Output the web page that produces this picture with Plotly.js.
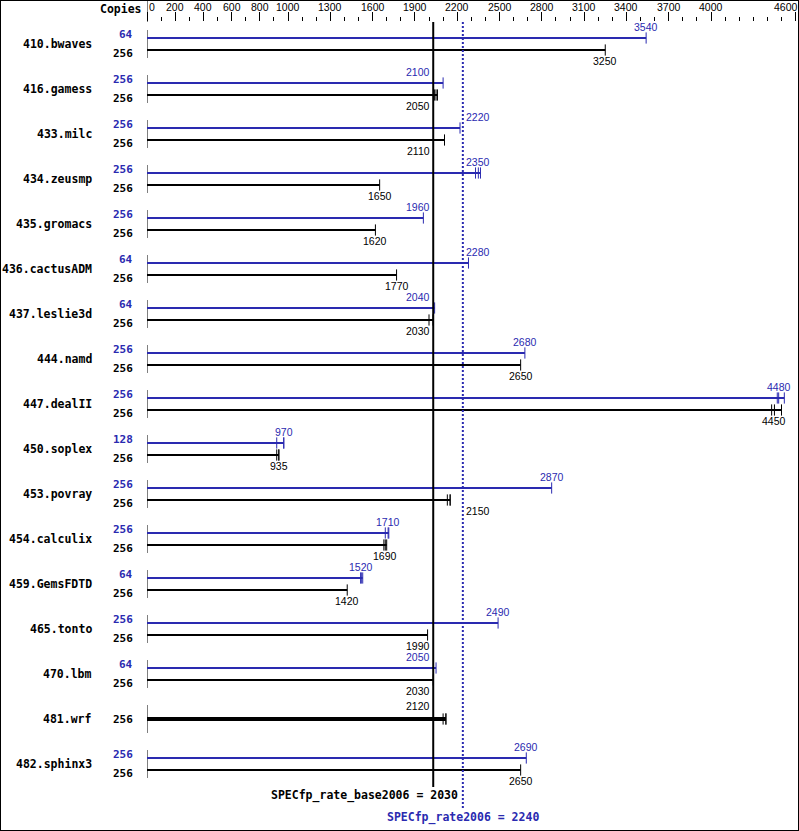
<!DOCTYPE html>
<html>
<head>
<meta charset="utf-8">
<script src="https://cdn.plot.ly/plotly-3.0.1.min.js"></script>
<style>
  html, body { margin: 0; padding: 0; background: #fff; }
  #chart { width: 797px; height: 829px; border: 1px solid #000; }
</style>
</head>
<body>
<div id="chart"></div>
<script>
// ---------------- data ----------------
const benchmarks = ['410.bwaves','416.gamess','433.milc','434.zeusmp','435.gromacs','436.cactusADM',
  '437.leslie3d','444.namd','447.dealII','450.soplex','453.povray','454.calculix','459.GemsFDTD',
  '465.tonto','470.lbm','481.wrf','482.sphinx3'];
const peakCopies = [64,256,256,256,256,64,64,256,256,128,256,256,64,256,64,null,256];
const baseCopies = [256,256,256,256,256,256,256,256,256,256,256,256,256,256,256,256,256];
const peakRatio = [3540,2100,2220,2350,1960,2280,2040,2680,4480,970,2870,1710,1520,2490,2050,null,2690];
const baseRatio = [3250,2050,2110,1650,1620,1770,2030,2650,4450,935,2150,1690,1420,1990,2030,2120,2650];
const peakRuns = [[3540],[2100],[2220],[2330,2350,2365],[1960],[2280],[2040],[2680],[4470,4480,4520],
  [920,970,970],[2870],[1690,1710,1715],[1515,1520,1530],[2490],[2050],null,[2690]];
const baseRuns = [[3250],[2040,2050,2060],[2110],[1650],[1620],[1770],[2000,2030,2030],[2650],[4430,4450,4500],
  [920,935,935],[2130,2150,2150],[1680,1690,1700],[1420],[1990],[2030],[2100,2120,2120],[2650]];
const baseScore = 2030;
const peakScore = 2240;
const tickVals = [0,200,400,600,800,1000,1300,1600,1900,2200,2500,2800,3100,3400,3700,4000,4600];

// ---------------- styling / layout helpers ----------------
const BLUE = '#2a2ab0';
const BLACK = '#000000';
const numFont = (c) => ({family: 'Liberation Sans, Arial, sans-serif', size: 10.5, color: c});
const boldFont = (c, s) => ({family: 'DejaVu Sans Mono, monospace', size: s || 11.5, color: c, weight: 'bold'});
const rowTop = 38, rowStep = 45, pairGap = 12;   // pixel layout of rows (y axis is in pixels)
const plotTop = 22, plotBottom = 830, plotH = plotBottom - plotTop;
const paperY = (py) => 1 + (plotTop - py) / plotH;
const halfLabel = 95; // approx half label width in data units

const traces = [];
const annotations = [];
const shapes = [];

function ann(o) {
  annotations.push(Object.assign({showarrow: false, yanchor: 'middle', borderpad: 0}, o));
}

function labelPos(v) {
  if (Math.abs(v - baseScore) < halfLabel) return {xanchor: 'right', x: baseScore, xshift: -2};
  if (Math.abs(v - peakScore) < halfLabel) return {xanchor: 'left', x: peakScore, xshift: 2};
  return {xanchor: 'center', x: v, xshift: 0};
}

const bars = {blue: {x: [], y: []}, black: {x: [], y: []}, thick: {x: [], y: []}};
const ticks = {blue: {x: [], y: []}, black: {x: [], y: []}};

benchmarks.forEach((name, i) => {
  const yb = rowTop + i * rowStep;
  const yk = yb + pairGap;
  const ymid = (yb + yk) / 2;
  // row axis line
  traces.push({x: [0, 0], y: [yb - 8, yk + 8], mode: 'lines', line: {color: BLACK, width: 1},
    hoverinfo: 'skip', showlegend: false});
  ann({x: 0, y: ymid - 0.5, xref: 'x', yref: 'y', text: name,
    xanchor: 'right', xshift: -54, font: boldFont(BLACK, 11.5)});
  if (peakRatio[i] == null) {
    const runs = baseRuns[i];
    const end = Math.max(...runs);
    bars.thick.x.push(0, end, null); bars.thick.y.push(ymid, ymid, null);
    runs.forEach(r => { ticks.black.x.push(r); ticks.black.y.push(ymid); });
    ann({y: ymid - 13, xref: 'x', yref: 'y', text: String(baseRatio[i]),
      font: numFont(BLACK), ...labelPos(baseRatio[i])});
    ann({x: 0, y: ymid, xref: 'x', yref: 'y', text: String(baseCopies[i]),
      xanchor: 'right', xshift: -13, font: boldFont(BLACK, 11)});
    return;
  }
  // peak
  const pend = Math.max(...peakRuns[i]);
  bars.blue.x.push(0, pend, null); bars.blue.y.push(yb, yb, null);
  peakRuns[i].forEach(r => { ticks.blue.x.push(r); ticks.blue.y.push(yb); });
  ann({y: yb - 11, xref: 'x', yref: 'y', text: String(peakRatio[i]),
    font: numFont(BLUE), ...labelPos(peakRatio[i])});
  ann({x: 0, y: yb - 3.5, xref: 'x', yref: 'y', text: String(peakCopies[i]),
    xanchor: 'right', xshift: -13, font: boldFont(BLUE, 11)});
  // base
  const bend = Math.max(...baseRuns[i]);
  bars.black.x.push(0, bend, null); bars.black.y.push(yk, yk, null);
  baseRuns[i].forEach(r => { ticks.black.x.push(r); ticks.black.y.push(yk); });
  ann({y: yk + 11, xref: 'x', yref: 'y', text: String(baseRatio[i]),
    font: numFont(BLACK), ...labelPos(baseRatio[i])});
  ann({x: 0, y: yk + 3, xref: 'x', yref: 'y', text: String(baseCopies[i]),
    xanchor: 'right', xshift: -13, font: boldFont(BLACK, 11)});
});

traces.push({x: bars.blue.x, y: bars.blue.y, mode: 'lines', line: {color: BLUE, width: 2}, hoverinfo: 'skip', showlegend: false});
traces.push({x: bars.black.x, y: bars.black.y, mode: 'lines', line: {color: BLACK, width: 2}, hoverinfo: 'skip', showlegend: false});
traces.push({x: bars.thick.x, y: bars.thick.y, mode: 'lines', line: {color: BLACK, width: 4}, hoverinfo: 'skip', showlegend: false});
traces.push({x: ticks.blue.x, y: ticks.blue.y, mode: 'markers', hoverinfo: 'skip', showlegend: false,
  marker: {symbol: 'line-ns-open', size: 8, color: BLUE, line: {color: BLUE, width: 1}}});
traces.push({x: ticks.black.x, y: ticks.black.y, mode: 'markers', hoverinfo: 'skip', showlegend: false,
  marker: {symbol: 'line-ns-open', size: 8, color: BLACK, line: {color: BLACK, width: 1}}});

// score lines
shapes.push({type: 'line', xref: 'x', yref: 'y', x0: baseScore, x1: baseScore, y0: plotTop, y1: 787,
  line: {color: BLACK, width: 2}});
shapes.push({type: 'line', xref: 'x', yref: 'y', x0: peakScore, x1: peakScore, y0: plotTop, y1: 808,
  line: {color: BLUE, width: 2, dash: '2px,2px'}});
// zero tick at top running to the border
shapes.push({type: 'line', xref: 'x', yref: 'paper', x0: 0, x1: 0, y0: 1, y1: paperY(0),
  line: {color: BLACK, width: 1}});

ann({x: baseScore, y: 795, xref: 'x', yref: 'y', text: 'SPECfp_rate_base2006 = ' + baseScore,
  xanchor: 'right', xshift: 26, font: boldFont(BLACK, 11.5)});
ann({x: peakScore, y: 817, xref: 'x', yref: 'y', text: 'SPECfp_rate2006 = ' + peakScore,
  xanchor: 'center', font: boldFont(BLUE, 11.5)});

// top axis labels
ann({x: 0, y: paperY(9), xref: 'x', yref: 'paper', text: 'Copies',
  xanchor: 'right', xshift: -4, font: boldFont(BLACK, 11.5)});
tickVals.forEach((t, k) => {
  let xa = 'center', xs = 0;
  if (k === 0) { xa = 'left'; xs = 1; }
  if (k === tickVals.length - 1) { xa = 'right'; xs = 3; }
  ann({x: t, y: paperY(7), xref: 'x', yref: 'paper', text: String(t),
    xanchor: xa, xshift: xs, font: numFont(BLACK)});
});

const layout = {
  width: 797, height: 829,
  margin: {l: 146, r: 0, t: plotTop - 1, b: 0, pad: 0},
  paper_bgcolor: '#ffffff', plot_bgcolor: '#ffffff',
  showlegend: false,
  xaxis: {
    side: 'top', range: [0, 4617], showgrid: false, zeroline: false, showline: false,
    tickmode: 'array', tickvals: tickVals, ticks: 'outside', ticklen: 9, tickwidth: 1, tickcolor: BLACK,
    showticklabels: false, fixedrange: true, automargin: false,
    minor: {ticks: 'outside', ticklen: 4, tickwidth: 1, tickcolor: BLACK, tickmode: 'linear', tick0: 0, dtick: 100, showgrid: false}
  },
  yaxis: {range: [plotBottom, plotTop], visible: false, fixedrange: true, automargin: false},
  annotations: annotations,
  shapes: shapes
};

Plotly.newPlot('chart', traces, layout, {staticPlot: true, displayModeBar: false});
</script>
</body>
</html>
